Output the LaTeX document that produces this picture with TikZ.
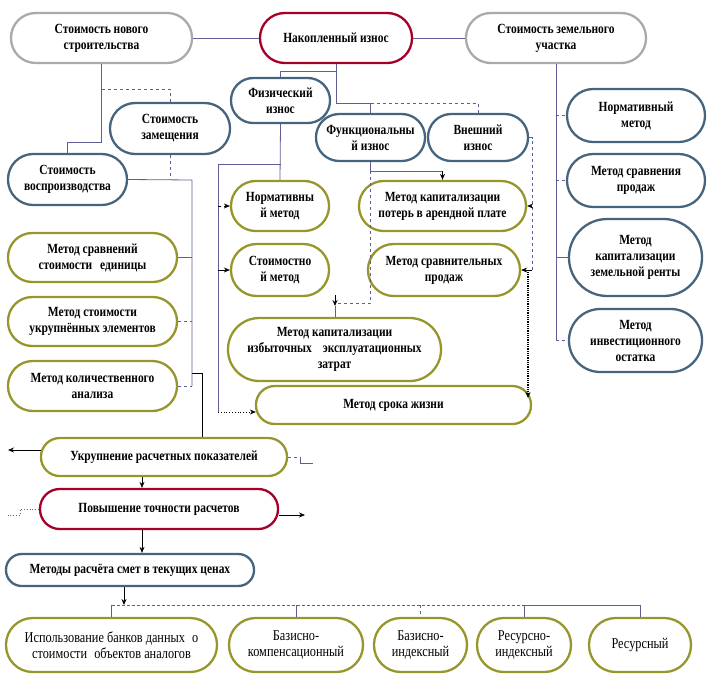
\documentclass[tikz,border=0pt]{standalone}
\usepackage{fontspec}
\setmainfont{Liberation Serif}[FakeStretch=0.82]
\usetikzlibrary{arrows.meta,calc}
\definecolor{cgray}{RGB}{170,170,170}
\definecolor{cred}{RGB}{165,0,40}
\definecolor{cblue}{RGB}{70,100,125}
\definecolor{colive}{RGB}{150,150,45}
\definecolor{cline}{RGB}{95,95,150}
\tikzset{
  boxst/.style={line width=2.3pt, align=center, inner sep=0pt, font=\fontsize{14}{16}\bfseries\selectfont},
  lowst/.style={font=\fontsize{15}{16}\selectfont},
  conn/.style={draw=cline, line width=0.8pt},
  blk/.style={draw=black, line width=0.8pt},
  tip/.style={-{Stealth[length=6pt,width=5pt]}}
}
\newcommand\bx[8][]{%
  \pgfmathsetmacro\bw{#5-#3-2}\pgfmathsetmacro\bh{#6-#4-2}%
  \pgfmathsetmacro\bcx{(#3+#5)/2}\pgfmathsetmacro\bcy{(#4+#6)/2}%
  \pgfmathsetmacro\brc{\bh/2-0.3}%
  \node[boxst, draw=#7, minimum width=\bw pt, minimum height=\bh pt, rounded corners=\brc pt, #1] (#2) at (\bcx,\bcy) {#8};}
\begin{document}
\begin{tikzpicture}[x=1pt,y=-1pt]
\useasboundingbox (0,0) rectangle (708,683);
% top row
\bx{nov}{10}{12}{193}{64}{cgray}{Стоимость нового\\строительства}
\bx{nak}{259}{12}{413}{64}{cred}{Накопленный износ}
\bx{zem}{465}{12}{647}{64}{cgray}{Стоимость земельного\\участка}
% blue
\bx{fiz}{230}{77}{331}{124}{cblue}{Физический\\износ}
\bx{zam}{109}{102}{231}{155}{cblue}{Стоимость\\замещения}
\bx{vosp}{7}{153}{128}{206}{cblue}{Стоимость\\воспроизводства}
\bx{func}{315}{113}{426}{162}{cblue}{Функциональны\\й износ}
\bx{vn}{427}{113}{529}{162}{cblue}{Внешний\\износ}
\bx{nrmR}{566}{88}{706}{143}{cblue}{Нормативный\\метод}
\bx{msR}{566}{153}{706}{208}{cblue}{Метод сравнения\\продаж}
\bx{kzr}{568}{218}{703}{297}{cblue}{Метод\\капитализации\\земельной ренты}
\bx{inv}{568}{308}{703}{373}{cblue}{Метод\\инвестиционного\\остатка}
% olive middle
\bx{nrm2}{230}{180}{330}{232}{colive}{Нормативны\\й метод}
\bx{kpot}{358}{180}{527}{232}{colive}{Метод капитализации\\потерь в арендной плате}
\bx{stm}{230}{243}{330}{297}{colive}{Стоимостно\\й метод}
\bx{msp}{367}{243}{521}{297}{colive}{Метод сравнительных\\продаж}
\bx{kiz}{227}{317}{442}{382}{colive}{Метод капитализации\\избыточных\hspace{8pt} эксплуатационных\\затрат}
\bx{srok}{255}{385}{532}{425}{colive}{Метод срока жизни}
% olive left
\bx{msr}{7}{232}{178}{283}{colive}{Метод сравнений\\стоимости\hspace{5pt} единицы}
\bx{mst}{7}{296}{178}{347}{colive}{Метод стоимости\\укрупнённых элементов}
\bx{mka}{7}{360}{178}{412}{colive}{Метод количественного\\анализа}
% lower chain
\bx{ukr}{40}{437}{288}{477}{colive}{Укрупнение расчетных показателей}
\bx{pov}{39}{488}{279}{530}{cred}{Повышение точности расчетов}
\bx{met}{5}{553}{255}{587}{cblue}{Методы расчёта смет в текущих ценах}
% bottom row
\bx[lowst]{b1}{5}{617}{218}{673}{colive}{Использование банков данных\hspace{4pt} о\\стоимости\hspace{4pt} объектов аналогов}
\bx[lowst]{b2}{228}{617}{364}{673}{colive}{Базисно-\\компенсационный}
\bx[lowst]{b3}{373}{617}{468}{673}{colive}{Базисно-\\индексный}
\bx[lowst]{b4}{476}{617}{572}{673}{colive}{Ресурсно-\\индексный}
\bx[lowst]{b5}{588}{617}{692}{673}{colive}{Ресурсный}

% ---- connectors ----
\draw[conn] (nov) -- (nak);
\draw[conn] (nak) -- (zem);
\draw[conn] (nov.south) |- (vosp.north |- 0,142) -- (vosp.north);
\draw[conn,dashed] (nov.south |- 0,89) -| (zam.north);
\draw[conn,dashed] (zam.south) -- (zam.south |- 0,180);
\draw[conn] (vosp.east) -- (192,180) -- (192,386);
\draw[conn] (msr.east) -- (msr.east -| 192,0);
\draw[conn,dashed] (mst.east) -- (mst.east -| 192,0);
\draw[conn,dashed] (mka.east) -- (mka.east -| 192,0);
\draw[blk] (192,373) -| (ukr.north -| 202,0);
% accumulated wear
\draw[conn] (nak.south) |- (func.north |- 0,103) -- (func.north);
\draw[conn] (nak.south |- 0,71) -| (fiz.north);
\draw[conn,dashed] (func.north |- 0,103) -| (vn.north);
% physical
\draw[conn] (fiz.south) -- (nrm2.north);
\draw[conn] (fiz.south |- 0,164) -- (218,164) -- (218,412);
\draw[blk,dashed,tip] (218,206) -- (nrm2.west);
\draw[blk,tip] (218,270) -- (stm.west);
\draw[blk,dotted,tip] (218,412) -- ($(srok.west)+(1,7)$);
% functional
\draw[conn] (func.south) |- (kpot.north |- 0,171);
\draw[blk,tip] (kpot.north |- 0,171) -- (kpot.north);
\draw[conn,dashed] (func.south |- 0,171) |- (335,303);
\draw[blk,tip] (335,295) -- (335,306);
\draw[conn] (335,306) -- (kiz.north -| 335,0);
% external
\draw[conn,dashed] (vn.east) -| (532,270);
\draw[blk,tip] (532,206) -- (kpot.east);
\draw[blk,tip] (532,270) -- (msp.east);
\draw[blk,densely dotted,line width=1.1pt,tip] (528,272) -- (528,398);
% land
\draw[conn] (zem.south) -- (zem.south |- 0,340);
\draw[conn,dashed] (zem.south |- nrmR.west) -- (nrmR.west);
\draw[conn,dashed] (zem.south |- msR.west) -- (msR.west);
\draw[conn] (zem.south |- kzr.west) -- (kzr.west);
\draw[conn,dashed] (zem.south |- inv.west) -- (inv.west);
% lower chain
\draw[blk,tip] ($(ukr.west)+(1,-7)$) -- (8,450);
\draw[conn,dashed] (ukr.east) -- (300,457);
\draw[conn] (300,457) |- (313,463);
\draw[blk,tip] (ukr.south -| 142,0) -- (pov.north -| 142,0);
\draw[conn,dotted,line width=1pt] (pov.west) -- (20,509) |- (8,515);
\draw[blk,tip] ($(pov.east)+(0,6)$) -- (305,515);
\draw[blk,tip] (pov.south -| 142,0) -- (met.north -| 142,0);
% bottom
\draw[blk,tip] (met.south -| 124,0) -- (124,605);
\draw[conn,densely dashed] (b1.north |- 0,605) -- (b4.north |- 0,605);
\draw[conn] (b4.north |- 0,605) -- (b5.north |- 0,605);
\draw[conn] (b1.north |- 0,605) -- (b1.north);
\draw[conn] (b2.north |- 0,605) -- (b2.north);
\draw[conn,dashed] (b3.north |- 0,605) -- (b3.north);
\draw[conn] (b4.north |- 0,605) -- (b4.north);
\draw[conn] (b5.north |- 0,605) -- (b5.north);
\end{tikzpicture}
\end{document}
